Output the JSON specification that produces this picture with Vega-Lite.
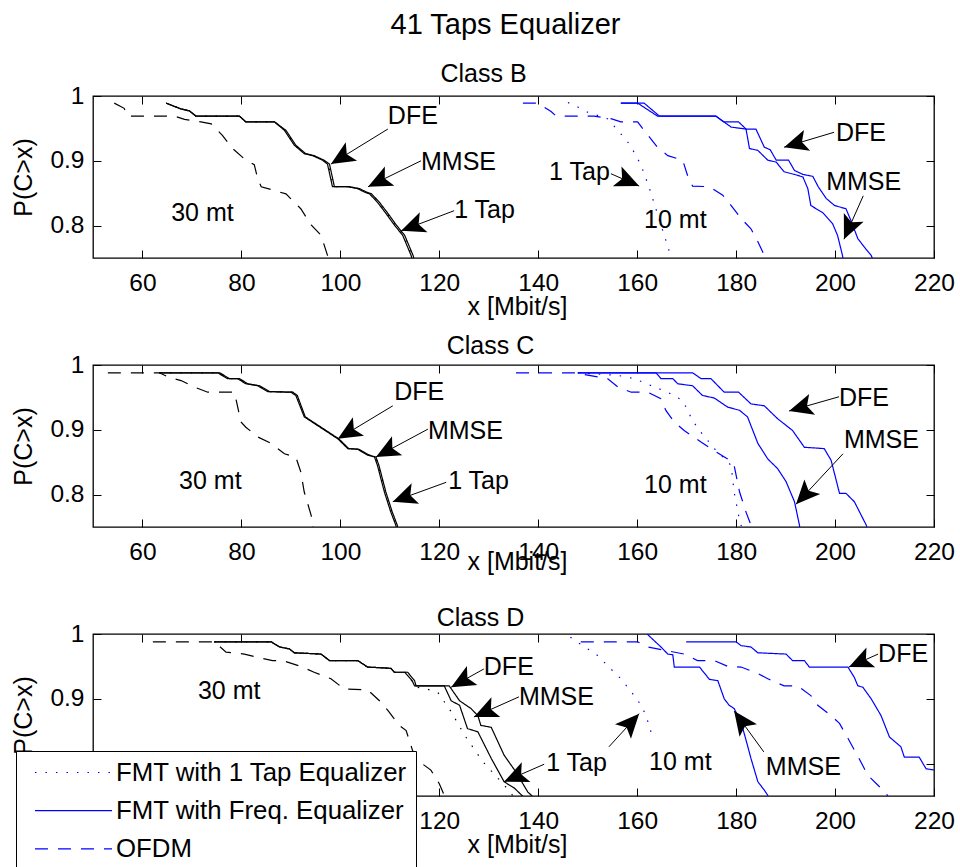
{
  "$schema": "https://vega.github.io/schema/vega-lite/v6.json",
  "padding": {"left": 10, "top": 11, "right": 5, "bottom": 0},
  "title": {"text": "41 Taps Equalizer", "fontSize": 29, "offset": 21, "dx": -8, "frame": "group", "anchor": "middle"},
  "datasets": {
    "curves": [
      {"c":"B","d":"30 mt","e":"DFE","x":64.8,"p":0.989},{"c":"B","d":"30 mt","e":"DFE","x":66.1,"p":0.985},{"c":"B","d":"30 mt","e":"DFE","x":67.8,"p":0.98},{"c":"B","d":"30 mt","e":"DFE","x":69.5,"p":0.977},{"c":"B","d":"30 mt","e":"DFE","x":70.8,"p":0.969},{"c":"B","d":"30 mt","e":"DFE","x":79.6,"p":0.969},{"c":"B","d":"30 mt","e":"DFE","x":80.9,"p":0.96},{"c":"B","d":"30 mt","e":"DFE","x":86.7,"p":0.96},{"c":"B","d":"30 mt","e":"DFE","x":88.7,"p":0.947},{"c":"B","d":"30 mt","e":"DFE","x":90.7,"p":0.924},{"c":"B","d":"30 mt","e":"DFE","x":92.7,"p":0.911},{"c":"B","d":"30 mt","e":"DFE","x":94.4,"p":0.908},{"c":"B","d":"30 mt","e":"DFE","x":96.4,"p":0.901},{"c":"B","d":"30 mt","e":"DFE","x":97.4,"p":0.895},{"c":"B","d":"30 mt","e":"DFE","x":98.4,"p":0.86},{"c":"B","d":"30 mt","e":"DFE","x":101.5,"p":0.86},{"c":"B","d":"30 mt","e":"DFE","x":103.5,"p":0.857},{"c":"B","d":"30 mt","e":"DFE","x":104.8,"p":0.852},{"c":"B","d":"30 mt","e":"DFE","x":105.9,"p":0.849},{"c":"B","d":"30 mt","e":"DFE","x":107.5,"p":0.836},{"c":"B","d":"30 mt","e":"DFE","x":109.2,"p":0.819},{"c":"B","d":"30 mt","e":"DFE","x":110.9,"p":0.801},{"c":"B","d":"30 mt","e":"DFE","x":112.6,"p":0.785},{"c":"B","d":"30 mt","e":"DFE","x":114.3,"p":0.754},{"c":"B","d":"30 mt","e":"DFE","x":114.6,"p":0.745},
      {"c":"B","d":"30 mt","e":"MMSE","x":64.8,"p":0.989},{"c":"B","d":"30 mt","e":"MMSE","x":66.1,"p":0.985},{"c":"B","d":"30 mt","e":"MMSE","x":67.8,"p":0.98},{"c":"B","d":"30 mt","e":"MMSE","x":69.5,"p":0.977},{"c":"B","d":"30 mt","e":"MMSE","x":70.8,"p":0.969},{"c":"B","d":"30 mt","e":"MMSE","x":79.6,"p":0.969},{"c":"B","d":"30 mt","e":"MMSE","x":80.9,"p":0.96},{"c":"B","d":"30 mt","e":"MMSE","x":86.7,"p":0.96},{"c":"B","d":"30 mt","e":"MMSE","x":89.0,"p":0.947},{"c":"B","d":"30 mt","e":"MMSE","x":91.0,"p":0.924},{"c":"B","d":"30 mt","e":"MMSE","x":93.0,"p":0.911},{"c":"B","d":"30 mt","e":"MMSE","x":94.7,"p":0.908},{"c":"B","d":"30 mt","e":"MMSE","x":96.7,"p":0.901},{"c":"B","d":"30 mt","e":"MMSE","x":97.8,"p":0.895},{"c":"B","d":"30 mt","e":"MMSE","x":98.8,"p":0.86},{"c":"B","d":"30 mt","e":"MMSE","x":101.9,"p":0.86},{"c":"B","d":"30 mt","e":"MMSE","x":103.9,"p":0.857},{"c":"B","d":"30 mt","e":"MMSE","x":105.2,"p":0.852},{"c":"B","d":"30 mt","e":"MMSE","x":106.3,"p":0.849},{"c":"B","d":"30 mt","e":"MMSE","x":107.9,"p":0.836},{"c":"B","d":"30 mt","e":"MMSE","x":109.6,"p":0.819},{"c":"B","d":"30 mt","e":"MMSE","x":111.3,"p":0.801},{"c":"B","d":"30 mt","e":"MMSE","x":113.0,"p":0.785},{"c":"B","d":"30 mt","e":"MMSE","x":114.7,"p":0.754},{"c":"B","d":"30 mt","e":"MMSE","x":115.0,"p":0.745},
      {"c":"B","d":"30 mt","e":"1 Tap","x":64.8,"p":0.989},{"c":"B","d":"30 mt","e":"1 Tap","x":66.1,"p":0.985},{"c":"B","d":"30 mt","e":"1 Tap","x":67.8,"p":0.98},{"c":"B","d":"30 mt","e":"1 Tap","x":69.5,"p":0.977},{"c":"B","d":"30 mt","e":"1 Tap","x":70.8,"p":0.969},{"c":"B","d":"30 mt","e":"1 Tap","x":79.6,"p":0.969},{"c":"B","d":"30 mt","e":"1 Tap","x":80.9,"p":0.96},{"c":"B","d":"30 mt","e":"1 Tap","x":86.7,"p":0.96},{"c":"B","d":"30 mt","e":"1 Tap","x":88.8,"p":0.947},{"c":"B","d":"30 mt","e":"1 Tap","x":90.8,"p":0.924},{"c":"B","d":"30 mt","e":"1 Tap","x":92.8,"p":0.911},{"c":"B","d":"30 mt","e":"1 Tap","x":94.5,"p":0.908},{"c":"B","d":"30 mt","e":"1 Tap","x":96.5,"p":0.901},{"c":"B","d":"30 mt","e":"1 Tap","x":97.6,"p":0.895},{"c":"B","d":"30 mt","e":"1 Tap","x":98.6,"p":0.86},{"c":"B","d":"30 mt","e":"1 Tap","x":101.7,"p":0.86},{"c":"B","d":"30 mt","e":"1 Tap","x":103.7,"p":0.857},{"c":"B","d":"30 mt","e":"1 Tap","x":105.0,"p":0.852},{"c":"B","d":"30 mt","e":"1 Tap","x":106.1,"p":0.849},{"c":"B","d":"30 mt","e":"1 Tap","x":107.7,"p":0.836},{"c":"B","d":"30 mt","e":"1 Tap","x":109.4,"p":0.819},{"c":"B","d":"30 mt","e":"1 Tap","x":111.1,"p":0.801},{"c":"B","d":"30 mt","e":"1 Tap","x":112.8,"p":0.785},{"c":"B","d":"30 mt","e":"1 Tap","x":114.5,"p":0.754},{"c":"B","d":"30 mt","e":"1 Tap","x":114.8,"p":0.745},
      {"c":"B","d":"30 mt","e":"OFDM","x":54.3,"p":0.989},{"c":"B","d":"30 mt","e":"OFDM","x":56.3,"p":0.981},{"c":"B","d":"30 mt","e":"OFDM","x":57.0,"p":0.969},{"c":"B","d":"30 mt","e":"OFDM","x":66.4,"p":0.969},{"c":"B","d":"30 mt","e":"OFDM","x":68.5,"p":0.964},{"c":"B","d":"30 mt","e":"OFDM","x":71.8,"p":0.96},{"c":"B","d":"30 mt","e":"OFDM","x":73.9,"p":0.957},{"c":"B","d":"30 mt","e":"OFDM","x":76.2,"p":0.939},{"c":"B","d":"30 mt","e":"OFDM","x":78.2,"p":0.919},{"c":"B","d":"30 mt","e":"OFDM","x":80.6,"p":0.903},{"c":"B","d":"30 mt","e":"OFDM","x":82.6,"p":0.894},{"c":"B","d":"30 mt","e":"OFDM","x":83.3,"p":0.872},{"c":"B","d":"30 mt","e":"OFDM","x":84.0,"p":0.86},{"c":"B","d":"30 mt","e":"OFDM","x":89.0,"p":0.849},{"c":"B","d":"30 mt","e":"OFDM","x":92.0,"p":0.826},{"c":"B","d":"30 mt","e":"OFDM","x":94.1,"p":0.801},{"c":"B","d":"30 mt","e":"OFDM","x":96.1,"p":0.785},{"c":"B","d":"30 mt","e":"OFDM","x":97.4,"p":0.754},{"c":"B","d":"30 mt","e":"OFDM","x":97.6,"p":0.745},
      {"c":"B","d":"10 mt","e":"DFE","x":156.7,"p":0.989},{"c":"B","d":"10 mt","e":"DFE","x":161.4,"p":0.989},{"c":"B","d":"10 mt","e":"DFE","x":164.5,"p":0.969},{"c":"B","d":"10 mt","e":"DFE","x":175.9,"p":0.969},{"c":"B","d":"10 mt","e":"DFE","x":177.5,"p":0.96},{"c":"B","d":"10 mt","e":"DFE","x":180.5,"p":0.96},{"c":"B","d":"10 mt","e":"DFE","x":182.0,"p":0.949},{"c":"B","d":"10 mt","e":"DFE","x":184.0,"p":0.949},{"c":"B","d":"10 mt","e":"DFE","x":185.7,"p":0.921},{"c":"B","d":"10 mt","e":"DFE","x":186.9,"p":0.917},{"c":"B","d":"10 mt","e":"DFE","x":188.1,"p":0.901},{"c":"B","d":"10 mt","e":"DFE","x":190.6,"p":0.901},{"c":"B","d":"10 mt","e":"DFE","x":191.8,"p":0.885},{"c":"B","d":"10 mt","e":"DFE","x":193.5,"p":0.879},{"c":"B","d":"10 mt","e":"DFE","x":195.5,"p":0.876},{"c":"B","d":"10 mt","e":"DFE","x":196.6,"p":0.86},{"c":"B","d":"10 mt","e":"DFE","x":198.2,"p":0.842},{"c":"B","d":"10 mt","e":"DFE","x":199.9,"p":0.831},{"c":"B","d":"10 mt","e":"DFE","x":202.2,"p":0.826},{"c":"B","d":"10 mt","e":"DFE","x":203.2,"p":0.808},{"c":"B","d":"10 mt","e":"DFE","x":204.6,"p":0.78},{"c":"B","d":"10 mt","e":"DFE","x":205.9,"p":0.767},{"c":"B","d":"10 mt","e":"DFE","x":207.3,"p":0.754},{"c":"B","d":"10 mt","e":"DFE","x":207.8,"p":0.745},
      {"c":"B","d":"10 mt","e":"MMSE","x":156.7,"p":0.989},{"c":"B","d":"10 mt","e":"MMSE","x":160.1,"p":0.989},{"c":"B","d":"10 mt","e":"MMSE","x":164.1,"p":0.969},{"c":"B","d":"10 mt","e":"MMSE","x":175.9,"p":0.969},{"c":"B","d":"10 mt","e":"MMSE","x":179.0,"p":0.952},{"c":"B","d":"10 mt","e":"MMSE","x":182.0,"p":0.949},{"c":"B","d":"10 mt","e":"MMSE","x":182.7,"p":0.919},{"c":"B","d":"10 mt","e":"MMSE","x":184.4,"p":0.916},{"c":"B","d":"10 mt","e":"MMSE","x":186.4,"p":0.901},{"c":"B","d":"10 mt","e":"MMSE","x":188.1,"p":0.898},{"c":"B","d":"10 mt","e":"MMSE","x":189.7,"p":0.883},{"c":"B","d":"10 mt","e":"MMSE","x":191.8,"p":0.879},{"c":"B","d":"10 mt","e":"MMSE","x":193.5,"p":0.875},{"c":"B","d":"10 mt","e":"MMSE","x":194.5,"p":0.857},{"c":"B","d":"10 mt","e":"MMSE","x":195.1,"p":0.831},{"c":"B","d":"10 mt","e":"MMSE","x":197.5,"p":0.82},{"c":"B","d":"10 mt","e":"MMSE","x":199.5,"p":0.803},{"c":"B","d":"10 mt","e":"MMSE","x":200.5,"p":0.785},{"c":"B","d":"10 mt","e":"MMSE","x":201.5,"p":0.754},{"c":"B","d":"10 mt","e":"MMSE","x":201.7,"p":0.745},
      {"c":"B","d":"10 mt","e":"OFDM","x":136.9,"p":0.989},{"c":"B","d":"10 mt","e":"OFDM","x":139.9,"p":0.989},{"c":"B","d":"10 mt","e":"OFDM","x":142.6,"p":0.976},{"c":"B","d":"10 mt","e":"OFDM","x":143.6,"p":0.969},{"c":"B","d":"10 mt","e":"OFDM","x":151.3,"p":0.969},{"c":"B","d":"10 mt","e":"OFDM","x":154.7,"p":0.965},{"c":"B","d":"10 mt","e":"OFDM","x":156.7,"p":0.96},{"c":"B","d":"10 mt","e":"OFDM","x":160.1,"p":0.96},{"c":"B","d":"10 mt","e":"OFDM","x":161.4,"p":0.947},{"c":"B","d":"10 mt","e":"OFDM","x":164.1,"p":0.921},{"c":"B","d":"10 mt","e":"OFDM","x":166.2,"p":0.908},{"c":"B","d":"10 mt","e":"OFDM","x":169.2,"p":0.901},{"c":"B","d":"10 mt","e":"OFDM","x":170.2,"p":0.877},{"c":"B","d":"10 mt","e":"OFDM","x":171.2,"p":0.861},{"c":"B","d":"10 mt","e":"OFDM","x":174.6,"p":0.86},{"c":"B","d":"10 mt","e":"OFDM","x":177.3,"p":0.847},{"c":"B","d":"10 mt","e":"OFDM","x":179.0,"p":0.831},{"c":"B","d":"10 mt","e":"OFDM","x":181.0,"p":0.811},{"c":"B","d":"10 mt","e":"OFDM","x":183.0,"p":0.795},{"c":"B","d":"10 mt","e":"OFDM","x":184.4,"p":0.775},{"c":"B","d":"10 mt","e":"OFDM","x":185.7,"p":0.754},{"c":"B","d":"10 mt","e":"OFDM","x":186.0,"p":0.745},
      {"c":"B","d":"10 mt","e":"1 Tap","x":146.0,"p":0.99},{"c":"B","d":"10 mt","e":"1 Tap","x":148.0,"p":0.983},{"c":"B","d":"10 mt","e":"1 Tap","x":150.0,"p":0.975},{"c":"B","d":"10 mt","e":"1 Tap","x":154.0,"p":0.965},{"c":"B","d":"10 mt","e":"1 Tap","x":156.1,"p":0.947},{"c":"B","d":"10 mt","e":"1 Tap","x":158.1,"p":0.929},{"c":"B","d":"10 mt","e":"1 Tap","x":159.4,"p":0.913},{"c":"B","d":"10 mt","e":"1 Tap","x":160.8,"p":0.893},{"c":"B","d":"10 mt","e":"1 Tap","x":162.5,"p":0.857},{"c":"B","d":"10 mt","e":"1 Tap","x":166.5,"p":0.76},{"c":"B","d":"10 mt","e":"1 Tap","x":166.9,"p":0.745},

      {"c":"C","d":"30 mt","e":"DFE","x":63.4,"p":0.988},{"c":"C","d":"30 mt","e":"DFE","x":75.2,"p":0.988},{"c":"C","d":"30 mt","e":"DFE","x":77.2,"p":0.979},{"c":"C","d":"30 mt","e":"DFE","x":79.2,"p":0.979},{"c":"C","d":"30 mt","e":"DFE","x":80.9,"p":0.971},{"c":"C","d":"30 mt","e":"DFE","x":83.3,"p":0.968},{"c":"C","d":"30 mt","e":"DFE","x":85.3,"p":0.959},{"c":"C","d":"30 mt","e":"DFE","x":90.0,"p":0.958},{"c":"C","d":"30 mt","e":"DFE","x":91.0,"p":0.953},{"c":"C","d":"30 mt","e":"DFE","x":92.7,"p":0.92},{"c":"C","d":"30 mt","e":"DFE","x":99.5,"p":0.886},{"c":"C","d":"30 mt","e":"DFE","x":101.5,"p":0.871},{"c":"C","d":"30 mt","e":"DFE","x":103.5,"p":0.87},{"c":"C","d":"30 mt","e":"DFE","x":105.5,"p":0.861},{"c":"C","d":"30 mt","e":"DFE","x":106.9,"p":0.858},{"c":"C","d":"30 mt","e":"DFE","x":107.5,"p":0.845},{"c":"C","d":"30 mt","e":"DFE","x":108.9,"p":0.804},{"c":"C","d":"30 mt","e":"DFE","x":110.2,"p":0.773},{"c":"C","d":"30 mt","e":"DFE","x":111.2,"p":0.753},{"c":"C","d":"30 mt","e":"DFE","x":111.4,"p":0.745},
      {"c":"C","d":"30 mt","e":"MMSE","x":63.4,"p":0.988},{"c":"C","d":"30 mt","e":"MMSE","x":75.6,"p":0.988},{"c":"C","d":"30 mt","e":"MMSE","x":77.6,"p":0.979},{"c":"C","d":"30 mt","e":"MMSE","x":79.6,"p":0.979},{"c":"C","d":"30 mt","e":"MMSE","x":81.3,"p":0.971},{"c":"C","d":"30 mt","e":"MMSE","x":83.7,"p":0.968},{"c":"C","d":"30 mt","e":"MMSE","x":85.7,"p":0.959},{"c":"C","d":"30 mt","e":"MMSE","x":90.4,"p":0.958},{"c":"C","d":"30 mt","e":"MMSE","x":91.3,"p":0.953},{"c":"C","d":"30 mt","e":"MMSE","x":92.9,"p":0.92},{"c":"C","d":"30 mt","e":"MMSE","x":99.7,"p":0.886},{"c":"C","d":"30 mt","e":"MMSE","x":101.7,"p":0.871},{"c":"C","d":"30 mt","e":"MMSE","x":103.7,"p":0.87},{"c":"C","d":"30 mt","e":"MMSE","x":105.8,"p":0.861},{"c":"C","d":"30 mt","e":"MMSE","x":107.2,"p":0.858},{"c":"C","d":"30 mt","e":"MMSE","x":107.8,"p":0.845},{"c":"C","d":"30 mt","e":"MMSE","x":109.2,"p":0.804},{"c":"C","d":"30 mt","e":"MMSE","x":110.5,"p":0.773},{"c":"C","d":"30 mt","e":"MMSE","x":111.5,"p":0.753},{"c":"C","d":"30 mt","e":"MMSE","x":111.7,"p":0.745},
      {"c":"C","d":"30 mt","e":"1 Tap","x":63.4,"p":0.988},{"c":"C","d":"30 mt","e":"1 Tap","x":75.4,"p":0.988},{"c":"C","d":"30 mt","e":"1 Tap","x":77.4,"p":0.979},{"c":"C","d":"30 mt","e":"1 Tap","x":79.4,"p":0.979},{"c":"C","d":"30 mt","e":"1 Tap","x":81.1,"p":0.971},{"c":"C","d":"30 mt","e":"1 Tap","x":83.5,"p":0.968},{"c":"C","d":"30 mt","e":"1 Tap","x":85.5,"p":0.959},{"c":"C","d":"30 mt","e":"1 Tap","x":90.2,"p":0.958},{"c":"C","d":"30 mt","e":"1 Tap","x":91.2,"p":0.953},{"c":"C","d":"30 mt","e":"1 Tap","x":92.8,"p":0.92},{"c":"C","d":"30 mt","e":"1 Tap","x":99.6,"p":0.886},{"c":"C","d":"30 mt","e":"1 Tap","x":101.6,"p":0.871},{"c":"C","d":"30 mt","e":"1 Tap","x":103.6,"p":0.87},{"c":"C","d":"30 mt","e":"1 Tap","x":105.7,"p":0.861},{"c":"C","d":"30 mt","e":"1 Tap","x":107.1,"p":0.858},{"c":"C","d":"30 mt","e":"1 Tap","x":107.7,"p":0.845},{"c":"C","d":"30 mt","e":"1 Tap","x":109.1,"p":0.804},{"c":"C","d":"30 mt","e":"1 Tap","x":110.4,"p":0.773},{"c":"C","d":"30 mt","e":"1 Tap","x":111.4,"p":0.753},{"c":"C","d":"30 mt","e":"1 Tap","x":111.6,"p":0.745},
      {"c":"C","d":"30 mt","e":"OFDM","x":53.0,"p":0.988},{"c":"C","d":"30 mt","e":"OFDM","x":63.4,"p":0.988},{"c":"C","d":"30 mt","e":"OFDM","x":65.4,"p":0.981},{"c":"C","d":"30 mt","e":"OFDM","x":67.8,"p":0.976},{"c":"C","d":"30 mt","e":"OFDM","x":70.5,"p":0.966},{"c":"C","d":"30 mt","e":"OFDM","x":73.2,"p":0.958},{"c":"C","d":"30 mt","e":"OFDM","x":78.6,"p":0.958},{"c":"C","d":"30 mt","e":"OFDM","x":79.2,"p":0.937},{"c":"C","d":"30 mt","e":"OFDM","x":79.9,"p":0.912},{"c":"C","d":"30 mt","e":"OFDM","x":80.9,"p":0.904},{"c":"C","d":"30 mt","e":"OFDM","x":83.3,"p":0.889},{"c":"C","d":"30 mt","e":"OFDM","x":86.0,"p":0.879},{"c":"C","d":"30 mt","e":"OFDM","x":88.7,"p":0.863},{"c":"C","d":"30 mt","e":"OFDM","x":91.0,"p":0.858},{"c":"C","d":"30 mt","e":"OFDM","x":92.0,"p":0.835},{"c":"C","d":"30 mt","e":"OFDM","x":92.7,"p":0.804},{"c":"C","d":"30 mt","e":"OFDM","x":94.1,"p":0.768},{"c":"C","d":"30 mt","e":"OFDM","x":94.4,"p":0.753},{"c":"C","d":"30 mt","e":"OFDM","x":94.5,"p":0.745},
      {"c":"C","d":"10 mt","e":"DFE","x":148.0,"p":0.988},{"c":"C","d":"10 mt","e":"DFE","x":171.2,"p":0.988},{"c":"C","d":"10 mt","e":"DFE","x":172.9,"p":0.979},{"c":"C","d":"10 mt","e":"DFE","x":174.9,"p":0.979},{"c":"C","d":"10 mt","e":"DFE","x":177.6,"p":0.958},{"c":"C","d":"10 mt","e":"DFE","x":180.5,"p":0.958},{"c":"C","d":"10 mt","e":"DFE","x":183.0,"p":0.94},{"c":"C","d":"10 mt","e":"DFE","x":185.7,"p":0.937},{"c":"C","d":"10 mt","e":"DFE","x":188.4,"p":0.917},{"c":"C","d":"10 mt","e":"DFE","x":191.4,"p":0.899},{"c":"C","d":"10 mt","e":"DFE","x":193.8,"p":0.873},{"c":"C","d":"10 mt","e":"DFE","x":197.8,"p":0.871},{"c":"C","d":"10 mt","e":"DFE","x":199.2,"p":0.853},{"c":"C","d":"10 mt","e":"DFE","x":200.9,"p":0.802},{"c":"C","d":"10 mt","e":"DFE","x":202.2,"p":0.802},{"c":"C","d":"10 mt","e":"DFE","x":203.9,"p":0.789},{"c":"C","d":"10 mt","e":"DFE","x":206.3,"p":0.753},{"c":"C","d":"10 mt","e":"DFE","x":206.6,"p":0.745},
      {"c":"C","d":"10 mt","e":"MMSE","x":148.0,"p":0.988},{"c":"C","d":"10 mt","e":"MMSE","x":163.8,"p":0.988},{"c":"C","d":"10 mt","e":"MMSE","x":164.8,"p":0.979},{"c":"C","d":"10 mt","e":"MMSE","x":167.2,"p":0.979},{"c":"C","d":"10 mt","e":"MMSE","x":168.2,"p":0.971},{"c":"C","d":"10 mt","e":"MMSE","x":171.2,"p":0.968},{"c":"C","d":"10 mt","e":"MMSE","x":173.2,"p":0.953},{"c":"C","d":"10 mt","e":"MMSE","x":175.6,"p":0.949},{"c":"C","d":"10 mt","e":"MMSE","x":178.3,"p":0.935},{"c":"C","d":"10 mt","e":"MMSE","x":180.7,"p":0.93},{"c":"C","d":"10 mt","e":"MMSE","x":182.3,"p":0.92},{"c":"C","d":"10 mt","e":"MMSE","x":184.4,"p":0.879},{"c":"C","d":"10 mt","e":"MMSE","x":186.4,"p":0.855},{"c":"C","d":"10 mt","e":"MMSE","x":188.4,"p":0.84},{"c":"C","d":"10 mt","e":"MMSE","x":190.1,"p":0.82},{"c":"C","d":"10 mt","e":"MMSE","x":191.8,"p":0.789},{"c":"C","d":"10 mt","e":"MMSE","x":192.8,"p":0.753},{"c":"C","d":"10 mt","e":"MMSE","x":192.9,"p":0.745},
      {"c":"C","d":"10 mt","e":"OFDM","x":135.5,"p":0.988},{"c":"C","d":"10 mt","e":"OFDM","x":147.3,"p":0.988},{"c":"C","d":"10 mt","e":"OFDM","x":154.0,"p":0.979},{"c":"C","d":"10 mt","e":"OFDM","x":156.1,"p":0.966},{"c":"C","d":"10 mt","e":"OFDM","x":158.8,"p":0.958},{"c":"C","d":"10 mt","e":"OFDM","x":162.1,"p":0.958},{"c":"C","d":"10 mt","e":"OFDM","x":164.8,"p":0.948},{"c":"C","d":"10 mt","e":"OFDM","x":165.8,"p":0.93},{"c":"C","d":"10 mt","e":"OFDM","x":167.5,"p":0.912},{"c":"C","d":"10 mt","e":"OFDM","x":169.5,"p":0.899},{"c":"C","d":"10 mt","e":"OFDM","x":172.9,"p":0.881},{"c":"C","d":"10 mt","e":"OFDM","x":174.9,"p":0.871},{"c":"C","d":"10 mt","e":"OFDM","x":178.3,"p":0.855},{"c":"C","d":"10 mt","e":"OFDM","x":179.6,"p":0.845},{"c":"C","d":"10 mt","e":"OFDM","x":180.7,"p":0.804},{"c":"C","d":"10 mt","e":"OFDM","x":182.0,"p":0.773},{"c":"C","d":"10 mt","e":"OFDM","x":183.0,"p":0.753},{"c":"C","d":"10 mt","e":"OFDM","x":183.1,"p":0.745},
      {"c":"C","d":"10 mt","e":"1 Tap","x":148.0,"p":0.988},{"c":"C","d":"10 mt","e":"1 Tap","x":156.1,"p":0.984},{"c":"C","d":"10 mt","e":"1 Tap","x":159.4,"p":0.979},{"c":"C","d":"10 mt","e":"1 Tap","x":163.5,"p":0.966},{"c":"C","d":"10 mt","e":"1 Tap","x":166.2,"p":0.958},{"c":"C","d":"10 mt","e":"1 Tap","x":169.2,"p":0.945},{"c":"C","d":"10 mt","e":"1 Tap","x":170.2,"p":0.93},{"c":"C","d":"10 mt","e":"1 Tap","x":171.2,"p":0.914},{"c":"C","d":"10 mt","e":"1 Tap","x":172.9,"p":0.896},{"c":"C","d":"10 mt","e":"1 Tap","x":175.6,"p":0.871},{"c":"C","d":"10 mt","e":"1 Tap","x":179.0,"p":0.845},{"c":"C","d":"10 mt","e":"1 Tap","x":179.6,"p":0.804},{"c":"C","d":"10 mt","e":"1 Tap","x":180.5,"p":0.768},{"c":"C","d":"10 mt","e":"1 Tap","x":181.0,"p":0.753},{"c":"C","d":"10 mt","e":"1 Tap","x":181.1,"p":0.745},

      {"c":"D","d":"30 mt","e":"DFE","x":74.5,"p":0.988},{"c":"D","d":"30 mt","e":"DFE","x":86.0,"p":0.988},{"c":"D","d":"30 mt","e":"DFE","x":87.7,"p":0.98},{"c":"D","d":"30 mt","e":"DFE","x":89.7,"p":0.977},{"c":"D","d":"30 mt","e":"DFE","x":90.7,"p":0.971},{"c":"D","d":"30 mt","e":"DFE","x":96.1,"p":0.969},{"c":"D","d":"30 mt","e":"DFE","x":97.8,"p":0.959},{"c":"D","d":"30 mt","e":"DFE","x":103.5,"p":0.959},{"c":"D","d":"30 mt","e":"DFE","x":105.5,"p":0.949},{"c":"D","d":"30 mt","e":"DFE","x":110.2,"p":0.947},{"c":"D","d":"30 mt","e":"DFE","x":110.9,"p":0.941},{"c":"D","d":"30 mt","e":"DFE","x":113.6,"p":0.941},{"c":"D","d":"30 mt","e":"DFE","x":115.0,"p":0.928},{"c":"D","d":"30 mt","e":"DFE","x":115.3,"p":0.92},{"c":"D","d":"30 mt","e":"DFE","x":122.0,"p":0.92},{"c":"D","d":"30 mt","e":"DFE","x":124.1,"p":0.897},{"c":"D","d":"30 mt","e":"DFE","x":126.4,"p":0.885},{"c":"D","d":"30 mt","e":"DFE","x":127.8,"p":0.874},{"c":"D","d":"30 mt","e":"DFE","x":128.4,"p":0.859},{"c":"D","d":"30 mt","e":"DFE","x":130.5,"p":0.856},{"c":"D","d":"30 mt","e":"DFE","x":133.1,"p":0.813},{"c":"D","d":"30 mt","e":"DFE","x":135.5,"p":0.787},{"c":"D","d":"30 mt","e":"DFE","x":137.9,"p":0.756},{"c":"D","d":"30 mt","e":"DFE","x":139.5,"p":0.745},
      {"c":"D","d":"30 mt","e":"MMSE","x":74.5,"p":0.988},{"c":"D","d":"30 mt","e":"MMSE","x":86.0,"p":0.988},{"c":"D","d":"30 mt","e":"MMSE","x":87.7,"p":0.98},{"c":"D","d":"30 mt","e":"MMSE","x":89.7,"p":0.977},{"c":"D","d":"30 mt","e":"MMSE","x":90.7,"p":0.971},{"c":"D","d":"30 mt","e":"MMSE","x":96.1,"p":0.969},{"c":"D","d":"30 mt","e":"MMSE","x":97.8,"p":0.959},{"c":"D","d":"30 mt","e":"MMSE","x":103.5,"p":0.959},{"c":"D","d":"30 mt","e":"MMSE","x":105.5,"p":0.949},{"c":"D","d":"30 mt","e":"MMSE","x":110.2,"p":0.947},{"c":"D","d":"30 mt","e":"MMSE","x":110.9,"p":0.941},{"c":"D","d":"30 mt","e":"MMSE","x":113.0,"p":0.941},{"c":"D","d":"30 mt","e":"MMSE","x":114.5,"p":0.928},{"c":"D","d":"30 mt","e":"MMSE","x":115.0,"p":0.92},{"c":"D","d":"30 mt","e":"MMSE","x":121.0,"p":0.92},{"c":"D","d":"30 mt","e":"MMSE","x":122.4,"p":0.897},{"c":"D","d":"30 mt","e":"MMSE","x":124.1,"p":0.89},{"c":"D","d":"30 mt","e":"MMSE","x":125.7,"p":0.854},{"c":"D","d":"30 mt","e":"MMSE","x":127.8,"p":0.849},{"c":"D","d":"30 mt","e":"MMSE","x":130.5,"p":0.808},{"c":"D","d":"30 mt","e":"MMSE","x":133.1,"p":0.772},{"c":"D","d":"30 mt","e":"MMSE","x":135.2,"p":0.762},{"c":"D","d":"30 mt","e":"MMSE","x":137.5,"p":0.745},
      {"c":"D","d":"30 mt","e":"1 Tap","x":74.5,"p":0.988},{"c":"D","d":"30 mt","e":"1 Tap","x":86.0,"p":0.988},{"c":"D","d":"30 mt","e":"1 Tap","x":87.7,"p":0.98},{"c":"D","d":"30 mt","e":"1 Tap","x":89.7,"p":0.977},{"c":"D","d":"30 mt","e":"1 Tap","x":90.7,"p":0.971},{"c":"D","d":"30 mt","e":"1 Tap","x":96.1,"p":0.969},{"c":"D","d":"30 mt","e":"1 Tap","x":97.8,"p":0.959},{"c":"D","d":"30 mt","e":"1 Tap","x":103.5,"p":0.959},{"c":"D","d":"30 mt","e":"1 Tap","x":105.5,"p":0.949},{"c":"D","d":"30 mt","e":"1 Tap","x":110.2,"p":0.947},{"c":"D","d":"30 mt","e":"1 Tap","x":110.9,"p":0.941},{"c":"D","d":"30 mt","e":"1 Tap","x":113.3,"p":0.941},{"c":"D","d":"30 mt","e":"1 Tap","x":115.3,"p":0.918},{"c":"D","d":"30 mt","e":"1 Tap","x":117.5,"p":0.915},{"c":"D","d":"30 mt","e":"1 Tap","x":119.7,"p":0.91},{"c":"D","d":"30 mt","e":"1 Tap","x":122.4,"p":0.88},{"c":"D","d":"30 mt","e":"1 Tap","x":125.1,"p":0.844},{"c":"D","d":"30 mt","e":"1 Tap","x":128.8,"p":0.803},{"c":"D","d":"30 mt","e":"1 Tap","x":132.5,"p":0.772},{"c":"D","d":"30 mt","e":"1 Tap","x":134.5,"p":0.755},{"c":"D","d":"30 mt","e":"1 Tap","x":135.2,"p":0.745},
      {"c":"D","d":"30 mt","e":"OFDM","x":62.1,"p":0.988},{"c":"D","d":"30 mt","e":"OFDM","x":74.5,"p":0.988},{"c":"D","d":"30 mt","e":"OFDM","x":76.9,"p":0.972},{"c":"D","d":"30 mt","e":"OFDM","x":80.6,"p":0.969},{"c":"D","d":"30 mt","e":"OFDM","x":83.3,"p":0.964},{"c":"D","d":"30 mt","e":"OFDM","x":86.3,"p":0.959},{"c":"D","d":"30 mt","e":"OFDM","x":88.3,"p":0.959},{"c":"D","d":"30 mt","e":"OFDM","x":92.0,"p":0.95},{"c":"D","d":"30 mt","e":"OFDM","x":94.7,"p":0.941},{"c":"D","d":"30 mt","e":"OFDM","x":98.1,"p":0.931},{"c":"D","d":"30 mt","e":"OFDM","x":100.8,"p":0.915},{"c":"D","d":"30 mt","e":"OFDM","x":105.5,"p":0.914},{"c":"D","d":"30 mt","e":"OFDM","x":107.9,"p":0.897},{"c":"D","d":"30 mt","e":"OFDM","x":109.6,"p":0.882},{"c":"D","d":"30 mt","e":"OFDM","x":111.9,"p":0.859},{"c":"D","d":"30 mt","e":"OFDM","x":113.3,"p":0.851},{"c":"D","d":"30 mt","e":"OFDM","x":114.6,"p":0.82},{"c":"D","d":"30 mt","e":"OFDM","x":115.6,"p":0.805},{"c":"D","d":"30 mt","e":"OFDM","x":118.3,"p":0.79},{"c":"D","d":"30 mt","e":"OFDM","x":120.0,"p":0.769},{"c":"D","d":"30 mt","e":"OFDM","x":121.0,"p":0.751},{"c":"D","d":"30 mt","e":"OFDM","x":121.1,"p":0.745},
      {"c":"D","d":"10 mt","e":"MMSE","x":162.0,"p":1.0},{"c":"D","d":"10 mt","e":"MMSE","x":164.8,"p":0.98},{"c":"D","d":"10 mt","e":"MMSE","x":166.2,"p":0.969},{"c":"D","d":"10 mt","e":"MMSE","x":167.2,"p":0.968},{"c":"D","d":"10 mt","e":"MMSE","x":167.5,"p":0.949},{"c":"D","d":"10 mt","e":"MMSE","x":172.6,"p":0.949},{"c":"D","d":"10 mt","e":"MMSE","x":174.6,"p":0.93},{"c":"D","d":"10 mt","e":"MMSE","x":176.3,"p":0.928},{"c":"D","d":"10 mt","e":"MMSE","x":177.6,"p":0.9},{"c":"D","d":"10 mt","e":"MMSE","x":178.6,"p":0.89},{"c":"D","d":"10 mt","e":"MMSE","x":179.6,"p":0.885},{"c":"D","d":"10 mt","e":"MMSE","x":181.0,"p":0.864},{"c":"D","d":"10 mt","e":"MMSE","x":182.3,"p":0.828},{"c":"D","d":"10 mt","e":"MMSE","x":183.0,"p":0.808},{"c":"D","d":"10 mt","e":"MMSE","x":184.4,"p":0.772},{"c":"D","d":"10 mt","e":"MMSE","x":185.7,"p":0.759},{"c":"D","d":"10 mt","e":"MMSE","x":186.4,"p":0.751},{"c":"D","d":"10 mt","e":"MMSE","x":186.5,"p":0.745},
      {"c":"D","d":"10 mt","e":"DFE","x":169.9,"p":0.988},{"c":"D","d":"10 mt","e":"DFE","x":180.0,"p":0.988},{"c":"D","d":"10 mt","e":"DFE","x":181.0,"p":0.982},{"c":"D","d":"10 mt","e":"DFE","x":183.0,"p":0.98},{"c":"D","d":"10 mt","e":"DFE","x":184.4,"p":0.971},{"c":"D","d":"10 mt","e":"DFE","x":190.1,"p":0.969},{"c":"D","d":"10 mt","e":"DFE","x":191.4,"p":0.959},{"c":"D","d":"10 mt","e":"DFE","x":193.8,"p":0.959},{"c":"D","d":"10 mt","e":"DFE","x":194.8,"p":0.949},{"c":"D","d":"10 mt","e":"DFE","x":202.6,"p":0.949},{"c":"D","d":"10 mt","e":"DFE","x":203.9,"p":0.933},{"c":"D","d":"10 mt","e":"DFE","x":204.6,"p":0.92},{"c":"D","d":"10 mt","e":"DFE","x":205.6,"p":0.918},{"c":"D","d":"10 mt","e":"DFE","x":207.3,"p":0.9},{"c":"D","d":"10 mt","e":"DFE","x":209.3,"p":0.874},{"c":"D","d":"10 mt","e":"DFE","x":211.0,"p":0.841},{"c":"D","d":"10 mt","e":"DFE","x":213.3,"p":0.826},{"c":"D","d":"10 mt","e":"DFE","x":214.0,"p":0.81},{"c":"D","d":"10 mt","e":"DFE","x":217.0,"p":0.81},{"c":"D","d":"10 mt","e":"DFE","x":218.4,"p":0.792},{"c":"D","d":"10 mt","e":"DFE","x":220.1,"p":0.79},{"c":"D","d":"10 mt","e":"DFE","x":221.0,"p":0.785},
      {"c":"D","d":"10 mt","e":"OFDM","x":148.6,"p":0.988},{"c":"D","d":"10 mt","e":"OFDM","x":160.1,"p":0.988},{"c":"D","d":"10 mt","e":"OFDM","x":162.1,"p":0.98},{"c":"D","d":"10 mt","e":"OFDM","x":169.5,"p":0.969},{"c":"D","d":"10 mt","e":"OFDM","x":172.2,"p":0.959},{"c":"D","d":"10 mt","e":"OFDM","x":175.6,"p":0.959},{"c":"D","d":"10 mt","e":"OFDM","x":178.3,"p":0.95},{"c":"D","d":"10 mt","e":"OFDM","x":181.0,"p":0.949},{"c":"D","d":"10 mt","e":"OFDM","x":184.4,"p":0.939},{"c":"D","d":"10 mt","e":"OFDM","x":186.4,"p":0.931},{"c":"D","d":"10 mt","e":"OFDM","x":189.7,"p":0.92},{"c":"D","d":"10 mt","e":"OFDM","x":192.4,"p":0.92},{"c":"D","d":"10 mt","e":"OFDM","x":195.1,"p":0.905},{"c":"D","d":"10 mt","e":"OFDM","x":196.5,"p":0.89},{"c":"D","d":"10 mt","e":"OFDM","x":199.2,"p":0.874},{"c":"D","d":"10 mt","e":"OFDM","x":200.9,"p":0.862},{"c":"D","d":"10 mt","e":"OFDM","x":202.6,"p":0.839},{"c":"D","d":"10 mt","e":"OFDM","x":203.9,"p":0.821},{"c":"D","d":"10 mt","e":"OFDM","x":205.2,"p":0.803},{"c":"D","d":"10 mt","e":"OFDM","x":206.6,"p":0.782},{"c":"D","d":"10 mt","e":"OFDM","x":209.3,"p":0.762},{"c":"D","d":"10 mt","e":"OFDM","x":210.6,"p":0.751},{"c":"D","d":"10 mt","e":"OFDM","x":210.8,"p":0.745},
      {"c":"D","d":"10 mt","e":"1 Tap","x":146.5,"p":0.995},{"c":"D","d":"10 mt","e":"1 Tap","x":148.0,"p":0.987},{"c":"D","d":"10 mt","e":"1 Tap","x":150.0,"p":0.977},{"c":"D","d":"10 mt","e":"1 Tap","x":152.0,"p":0.967},{"c":"D","d":"10 mt","e":"1 Tap","x":154.0,"p":0.951},{"c":"D","d":"10 mt","e":"1 Tap","x":156.7,"p":0.931},{"c":"D","d":"10 mt","e":"1 Tap","x":159.4,"p":0.905},{"c":"D","d":"10 mt","e":"1 Tap","x":160.8,"p":0.89},{"c":"D","d":"10 mt","e":"1 Tap","x":161.8,"p":0.874},{"c":"D","d":"10 mt","e":"1 Tap","x":163.1,"p":0.841}
    ],
    "notes": [
      {"c":"B","t":"DFE","x":109.6,"p":0.969},{"c":"B","t":"MMSE","x":116.3,"p":0.898},{"c":"B","t":"1 Tap","x":123.0,"p":0.824},{"c":"B","t":"30 mt","x":65.8,"p":0.819},
      {"c":"B","t":"DFE","x":200.2,"p":0.943},{"c":"B","t":"MMSE","x":198.2,"p":0.867},{"c":"B","t":"1 Tap","x":142.2,"p":0.883},{"c":"B","t":"10 mt","x":161.4,"p":0.809},
      {"c":"C","t":"DFE","x":110.9,"p":0.958},{"c":"C","t":"MMSE","x":117.7,"p":0.898},{"c":"C","t":"1 Tap","x":121.8,"p":0.821},{"c":"C","t":"30 mt","x":67.4,"p":0.821},
      {"c":"C","t":"DFE","x":200.8,"p":0.949},{"c":"C","t":"MMSE","x":201.8,"p":0.884},{"c":"C","t":"10 mt","x":161.4,"p":0.815},
      {"c":"D","t":"DFE","x":129.0,"p":0.949},{"c":"D","t":"MMSE","x":136.1,"p":0.903},{"c":"D","t":"1 Tap","x":141.6,"p":0.801},{"c":"D","t":"30 mt","x":71.2,"p":0.912},
      {"c":"D","t":"10 mt","x":162.4,"p":0.802},{"c":"D","t":"MMSE","x":186.0,"p":0.795},{"c":"D","t":"DFE","x":208.7,"p":0.969}
    ],
    "arrows": [
      {"c":"B","x":109.6,"p":0.949,"x2":98.1,"p2":0.895},{"c":"B","x":116.3,"p":0.9,"x2":105.6,"p2":0.86},{"c":"B","x":123.0,"p":0.823,"x2":112.3,"p2":0.792},
      {"c":"B","x":199.8,"p":0.944,"x2":189.7,"p2":0.921},{"c":"B","x":205.7,"p":0.846,"x2":201.8,"p2":0.779},{"c":"B","x":154.7,"p":0.88,"x2":160.4,"p2":0.861},
      {"c":"C","x":110.6,"p":0.937,"x2":99.5,"p2":0.886},{"c":"C","x":117.7,"p":0.901,"x2":107.2,"p2":0.858},{"c":"C","x":121.4,"p":0.819,"x2":110.6,"p2":0.789},
      {"c":"C","x":200.8,"p":0.951,"x2":190.7,"p2":0.929},{"c":"C","x":201.6,"p":0.863,"x2":192.1,"p2":0.785},
      {"c":"D","x":129.0,"p":0.946,"x2":122.4,"p2":0.918},{"c":"D","x":136.1,"p":0.903,"x2":127.0,"p2":0.872},{"c":"D","x":141.2,"p":0.799,"x2":133.1,"p2":0.772},
      {"c":"D","x":154.3,"p":0.826,"x2":160.4,"p2":0.877},{"c":"D","x":185.6,"p":0.818,"x2":179.6,"p2":0.881},{"c":"D","x":208.7,"p":0.969,"x2":202.8,"p2":0.949}
    ]
  },
  "vconcat": [
    {
      "width": 841, "height": 162,
      "title": {"text": "Class B", "dx": -30, "dy": 18},
      "layer": [
        {
          "data": {"name": "curves"},
          "transform": [
            {"filter": "datum.c == 'B'"},
            {"calculate": "datum.e == 'OFDM' ? 'OFDM' : (datum.e == '1 Tap' ? 'FMT with 1 Tap Equalizer' : 'FMT with Freq. Equalizer')", "as": "k"}
          ],
          "mark": {"type": "line", "clip": true, "strokeWidth": 1.2},
          "encoding": {
            "x": {"field": "x", "type": "quantitative", "scale": {"domain": [50, 220], "nice": false, "zero": false},
                  "axis": {"orient": "bottom", "values": [60, 80, 100, 120, 140, 160, 180, 200, 220], "title": "x [Mbit/s]", "titleX": 424, "titleY": 56}},
            "y": {"field": "p", "type": "quantitative", "scale": {"domain": [0.75, 1], "nice": false, "zero": false},
                  "axis": {"values": [0.8, 0.9, 1], "format": "~g", "title": "P(C>x)", "titleX": -70, "titleY": 81, "titleAngle": 270, "titleAlign": "center", "titleBaseline": "middle"}},
            "color": {"field": "d", "type": "nominal", "scale": {"domain": ["30 mt", "10 mt", "FMT with 1 Tap Equalizer", "FMT with Freq. Equalizer", "OFDM"], "range": ["#000000", "#0000ff", "#0000ff", "#0000ff", "#0000ff"]}, "legend": null},
            "strokeDash": {"field": "k", "type": "nominal",
                  "scale": {"domain": ["FMT with 1 Tap Equalizer", "FMT with Freq. Equalizer", "OFDM"], "range": [[1.5, 9], [1, 0], [13, 10]]},
                  "legend": {"orient": "none", "legendX": -77, "legendY": 655, "title": null, "fillColor": "white", "strokeColor": "black", "padding": 8,
                             "symbolType": "M-3,0L3,0", "symbolSize": 660, "symbolStrokeWidth": 1.2, "symbolStrokeColor": "#0000ff", "symbolFillColor": "transparent",
                             "symbolOffset": 36, "labelOffset": 29, "labelFontSize": 25.8, "labelFont": "Liberation Sans", "labelColor": "black", "rowPadding": 11.2, "labelLimit": 0,
                             "encode": {"symbols": {"update": {"stroke": {"value": "#0000ff"}, "opacity": {"value": 1}}}}}},
            "detail": {"field": "e"}
          }
        },
        {
          "data": {"name": "arrows"},
          "transform": [{"filter": "datum.c == 'B'"}],
          "mark": {"type": "rule", "color": "black", "strokeWidth": 1},
          "encoding": {
            "x": {"field": "x", "type": "quantitative", "scale": {"domain": [50, 220], "nice": false, "zero": false}, "axis": null},
            "y": {"field": "p", "type": "quantitative", "scale": {"domain": [0.75, 1], "nice": false, "zero": false}, "axis": null},
            "x2": {"field": "x2"}, "y2": {"field": "p2"}
          }
        },
        {
          "data": {"name": "arrows"},
          "transform": [{"filter": "datum.c == 'B'"}, {"calculate": "atan2(-(datum.p2 - datum.p) * 648, (datum.x2 - datum.x) * 4.947) * 180 / PI", "as": "ang"}],
          "mark": {"type": "point", "shape": "M0,0L-2,-0.9L-1.55,0L-2,0.9Z", "filled": true, "color": "black", "opacity": 1, "size": 576, "strokeWidth": 0},
          "encoding": {
            "x": {"field": "x2", "type": "quantitative", "scale": {"domain": [50, 220], "nice": false, "zero": false}, "axis": null},
            "y": {"field": "p2", "type": "quantitative", "scale": {"domain": [0.75, 1], "nice": false, "zero": false}, "axis": null},
            "angle": {"field": "ang", "type": "quantitative", "scale": null}
          }
        },
        {
          "data": {"name": "notes"},
          "transform": [{"filter": "datum.c == 'B'"}],
          "mark": {"type": "text", "align": "left", "baseline": "middle", "fontSize": 25, "font": "Liberation Sans", "color": "black"},
          "encoding": {
            "x": {"field": "x", "type": "quantitative", "scale": {"domain": [50, 220], "nice": false, "zero": false},
                  "axis": {"orient": "top", "labels": false, "title": null, "values": [60, 80, 100, 120, 140, 160, 180, 200, 220]}},
            "y": {"field": "p", "type": "quantitative", "scale": {"domain": [0.75, 1], "nice": false, "zero": false},
                  "axis": {"orient": "right", "labels": false, "title": null, "values": [0.8, 0.9, 1]}},
            "text": {"field": "t"}
          }
        }
      ],
      "resolve": {"axis": {"x": "independent", "y": "independent"}}
    },
    {
      "width": 841, "height": 162,
      "title": {"text": "Class C", "dx": -23, "dy": 21},
      "layer": [
        {
          "data": {"name": "curves"},
          "transform": [
            {"filter": "datum.c == 'C'"},
            {"calculate": "datum.e == 'OFDM' ? 'OFDM' : (datum.e == '1 Tap' ? 'FMT with 1 Tap Equalizer' : 'FMT with Freq. Equalizer')", "as": "k"}
          ],
          "mark": {"type": "line", "clip": true, "strokeWidth": 1.2},
          "encoding": {
            "x": {"field": "x", "type": "quantitative", "scale": {"domain": [50, 220], "nice": false, "zero": false},
                  "axis": {"orient": "bottom", "values": [60, 80, 100, 120, 140, 160, 180, 200, 220], "title": "x [Mbit/s]", "titleX": 424, "titleY": 42}},
            "y": {"field": "p", "type": "quantitative", "scale": {"domain": [0.75, 1], "nice": false, "zero": false},
                  "axis": {"values": [0.8, 0.9, 1], "format": "~g", "title": "P(C>x)", "titleX": -70, "titleY": 81, "titleAngle": 270, "titleAlign": "center", "titleBaseline": "middle"}},
            "color": {"field": "d", "type": "nominal", "scale": {"domain": ["30 mt", "10 mt", "FMT with 1 Tap Equalizer", "FMT with Freq. Equalizer", "OFDM"], "range": ["#000000", "#0000ff", "#0000ff", "#0000ff", "#0000ff"]}, "legend": null},
            "strokeDash": {"field": "k", "type": "nominal",
                  "scale": {"domain": ["FMT with 1 Tap Equalizer", "FMT with Freq. Equalizer", "OFDM"], "range": [[1.5, 9], [1, 0], [13, 10]]},
                  "legend": {"orient": "none", "legendX": -77, "legendY": 655, "title": null, "fillColor": "white", "strokeColor": "black", "padding": 8,
                             "symbolType": "M-3,0L3,0", "symbolSize": 660, "symbolStrokeWidth": 1.2, "symbolStrokeColor": "#0000ff", "symbolFillColor": "transparent",
                             "symbolOffset": 36, "labelOffset": 29, "labelFontSize": 25.8, "labelFont": "Liberation Sans", "labelColor": "black", "rowPadding": 11.2, "labelLimit": 0,
                             "encode": {"symbols": {"update": {"stroke": {"value": "#0000ff"}, "opacity": {"value": 1}}}}}},
            "detail": {"field": "e"}
          }
        },
        {
          "data": {"name": "arrows"},
          "transform": [{"filter": "datum.c == 'C'"}],
          "mark": {"type": "rule", "color": "black", "strokeWidth": 1},
          "encoding": {
            "x": {"field": "x", "type": "quantitative", "scale": {"domain": [50, 220], "nice": false, "zero": false}, "axis": null},
            "y": {"field": "p", "type": "quantitative", "scale": {"domain": [0.75, 1], "nice": false, "zero": false}, "axis": null},
            "x2": {"field": "x2"}, "y2": {"field": "p2"}
          }
        },
        {
          "data": {"name": "arrows"},
          "transform": [{"filter": "datum.c == 'C'"}, {"calculate": "atan2(-(datum.p2 - datum.p) * 648, (datum.x2 - datum.x) * 4.947) * 180 / PI", "as": "ang"}],
          "mark": {"type": "point", "shape": "M0,0L-2,-0.9L-1.55,0L-2,0.9Z", "filled": true, "color": "black", "opacity": 1, "size": 576, "strokeWidth": 0},
          "encoding": {
            "x": {"field": "x2", "type": "quantitative", "scale": {"domain": [50, 220], "nice": false, "zero": false}, "axis": null},
            "y": {"field": "p2", "type": "quantitative", "scale": {"domain": [0.75, 1], "nice": false, "zero": false}, "axis": null},
            "angle": {"field": "ang", "type": "quantitative", "scale": null}
          }
        },
        {
          "data": {"name": "notes"},
          "transform": [{"filter": "datum.c == 'C'"}],
          "mark": {"type": "text", "align": "left", "baseline": "middle", "fontSize": 25, "font": "Liberation Sans", "color": "black"},
          "encoding": {
            "x": {"field": "x", "type": "quantitative", "scale": {"domain": [50, 220], "nice": false, "zero": false},
                  "axis": {"orient": "top", "labels": false, "title": null, "values": [60, 80, 100, 120, 140, 160, 180, 200, 220]}},
            "y": {"field": "p", "type": "quantitative", "scale": {"domain": [0.75, 1], "nice": false, "zero": false},
                  "axis": {"orient": "right", "labels": false, "title": null, "values": [0.8, 0.9, 1]}},
            "text": {"field": "t"}
          }
        }
      ],
      "resolve": {"axis": {"x": "independent", "y": "independent"}}
    },
    {
      "width": 841, "height": 162,
      "title": {"text": "Class D", "dx": -33, "dy": 24},
      "layer": [
        {
          "data": {"name": "curves"},
          "transform": [
            {"filter": "datum.c == 'D'"},
            {"calculate": "datum.e == 'OFDM' ? 'OFDM' : (datum.e == '1 Tap' ? 'FMT with 1 Tap Equalizer' : 'FMT with Freq. Equalizer')", "as": "k"}
          ],
          "mark": {"type": "line", "clip": true, "strokeWidth": 1.2},
          "encoding": {
            "x": {"field": "x", "type": "quantitative", "scale": {"domain": [50, 220], "nice": false, "zero": false},
                  "axis": {"orient": "bottom", "values": [60, 80, 100, 120, 140, 160, 180, 200, 220], "title": "x [Mbit/s]", "titleX": 424, "titleY": 56}},
            "y": {"field": "p", "type": "quantitative", "scale": {"domain": [0.75, 1], "nice": false, "zero": false},
                  "axis": {"values": [0.8, 0.9, 1], "format": "~g", "title": "P(C>x)", "titleX": -70, "titleY": 81, "titleAngle": 270, "titleAlign": "center", "titleBaseline": "middle"}},
            "color": {"field": "d", "type": "nominal", "scale": {"domain": ["30 mt", "10 mt", "FMT with 1 Tap Equalizer", "FMT with Freq. Equalizer", "OFDM"], "range": ["#000000", "#0000ff", "#0000ff", "#0000ff", "#0000ff"]}, "legend": null},
            "strokeDash": {"field": "k", "type": "nominal",
                  "scale": {"domain": ["FMT with 1 Tap Equalizer", "FMT with Freq. Equalizer", "OFDM"], "range": [[1.5, 9], [1, 0], [13, 10]]},
                  "legend": {"orient": "none", "legendX": -77, "legendY": 655, "title": null, "fillColor": "white", "strokeColor": "black", "padding": 8,
                             "symbolType": "M-3,0L3,0", "symbolSize": 660, "symbolStrokeWidth": 1.2, "symbolStrokeColor": "#0000ff", "symbolFillColor": "transparent",
                             "symbolOffset": 36, "labelOffset": 29, "labelFontSize": 25.8, "labelFont": "Liberation Sans", "labelColor": "black", "rowPadding": 11.2, "labelLimit": 0,
                             "encode": {"symbols": {"update": {"stroke": {"value": "#0000ff"}, "opacity": {"value": 1}}}}}},
            "detail": {"field": "e"}
          }
        },
        {
          "data": {"name": "arrows"},
          "transform": [{"filter": "datum.c == 'D'"}],
          "mark": {"type": "rule", "color": "black", "strokeWidth": 1},
          "encoding": {
            "x": {"field": "x", "type": "quantitative", "scale": {"domain": [50, 220], "nice": false, "zero": false}, "axis": null},
            "y": {"field": "p", "type": "quantitative", "scale": {"domain": [0.75, 1], "nice": false, "zero": false}, "axis": null},
            "x2": {"field": "x2"}, "y2": {"field": "p2"}
          }
        },
        {
          "data": {"name": "arrows"},
          "transform": [{"filter": "datum.c == 'D'"}, {"calculate": "atan2(-(datum.p2 - datum.p) * 648, (datum.x2 - datum.x) * 4.947) * 180 / PI", "as": "ang"}],
          "mark": {"type": "point", "shape": "M0,0L-2,-0.9L-1.55,0L-2,0.9Z", "filled": true, "color": "black", "opacity": 1, "size": 576, "strokeWidth": 0},
          "encoding": {
            "x": {"field": "x2", "type": "quantitative", "scale": {"domain": [50, 220], "nice": false, "zero": false}, "axis": null},
            "y": {"field": "p2", "type": "quantitative", "scale": {"domain": [0.75, 1], "nice": false, "zero": false}, "axis": null},
            "angle": {"field": "ang", "type": "quantitative", "scale": null}
          }
        },
        {
          "data": {"name": "notes"},
          "transform": [{"filter": "datum.c == 'D'"}],
          "mark": {"type": "text", "align": "left", "baseline": "middle", "fontSize": 25, "font": "Liberation Sans", "color": "black"},
          "encoding": {
            "x": {"field": "x", "type": "quantitative", "scale": {"domain": [50, 220], "nice": false, "zero": false},
                  "axis": {"orient": "top", "labels": false, "title": null, "values": [60, 80, 100, 120, 140, 160, 180, 200, 220]}},
            "y": {"field": "p", "type": "quantitative", "scale": {"domain": [0.75, 1], "nice": false, "zero": false},
                  "axis": {"orient": "right", "labels": false, "title": null, "values": [0.8, 0.9, 1]}},
            "text": {"field": "t"}
          }
        }
      ],
      "resolve": {"axis": {"x": "independent", "y": "independent"}}
    }
  ],
  "spacing": 107,
  "bounds": "flush",
  "config": {
    "font": "Liberation Sans",
    "background": "white",
    "view": {"stroke": "black", "strokeWidth": 1.3},
    "axis": {
      "labelFont": "Liberation Sans", "labelFontSize": 24.5, "labelColor": "black",
      "tickColor": "black", "tickSize": -8, "tickWidth": 1,
      "domain": false, "grid": false,
      "titleFont": "Liberation Sans", "titleFontSize": 25, "titleFontWeight": "normal", "titleColor": "black",
      "labelFlush": false, "labelOverlap": false, "labelBound": false
    },
    "axisX": {"labelPadding": 40, "labelBaseline": "alphabetic", "titleBaseline": "alphabetic", "titleAlign": "center"},
    "axisY": {"labelPadding": 17, "labelBaseline": "middle"},
    "title": {"font": "Liberation Sans", "fontSize": 25, "fontWeight": "normal", "color": "black", "baseline": "alphabetic", "offset": 14}
  }
}
